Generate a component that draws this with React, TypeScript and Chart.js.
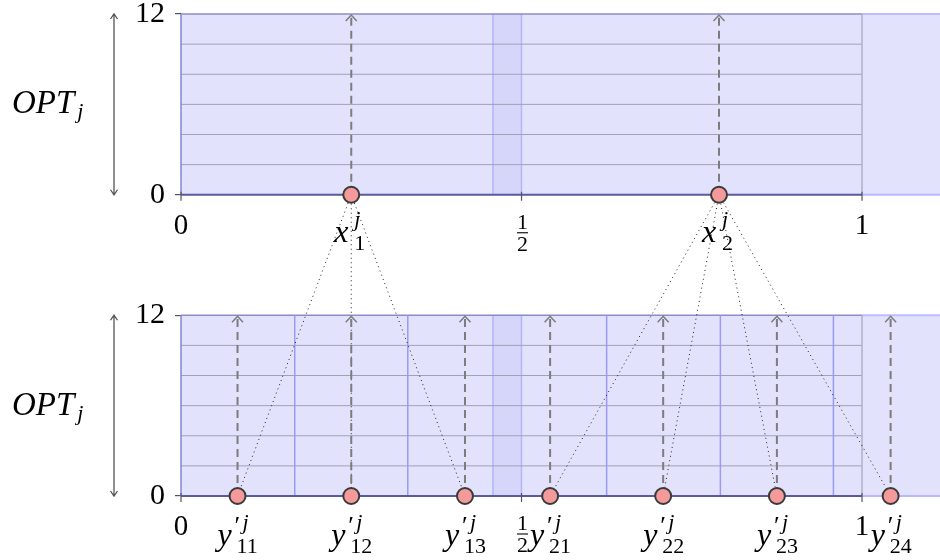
import React, { useEffect, useRef } from "react";
import { Chart, registerables } from "chart.js";

Chart.register(...registerables);

// ---- data ----
const X_MAX = 1.1145;
const Y_MIN = -20;
const Y_MAX = 12;
const PANEL_BASES = [0, -20]; // top panel, bottom panel (value offsets on shared y scale)
const PANEL_HEIGHT = 12;
const GRID_VALUES = [2, 4, 6, 8, 10];
const Y_TICK_VALUES = [0, 12];
const Y_TICK_LABELS = ["0", "12"];
const X_TICK_VALUES = [0, 0.5, 1];
const X_TICK_LABELS = ["0", "1/2", "1"];
const BAND = [0.458, 0.5];
const TOP_POINTS = [0.25, 0.79];
const TOP_LABELS = ["1", "2"];
const BOTTOM_POINTS = [0.083, 0.25, 0.417, 0.542, 0.708, 0.875, 1.042];
const BOTTOM_LABELS = ["11", "12", "13", "21", "22", "23", "24"];
const BOTTOM_PARENTS = [0, 0, 0, 1, 1, 1, 1];
const BOTTOM_DIVIDERS = [0.167, 0.333, 0.625, 0.792, 0.958];

const FONT = "'Liberation Serif', 'DejaVu Serif', serif";
const LIGHT = "#e2e2fd";

function seg(points: number[][], opts: any, order: number) {
  return {
    type: "line",
    data: points.map(([x, y]) => ({ x, y })),
    pointRadius: 0,
    pointHoverRadius: 0,
    borderWidth: 1,
    fill: false,
    tension: 0,
    clip: false,
    order,
    ...opts,
  };
}

function buildDatasets() {
  const ds: any[] = [];
  PANEL_BASES.forEach((b) => {
    const top = b + PANEL_HEIGHT;
    ds.push(seg([[0, top], [1, top]], { backgroundColor: LIGHT, fill: { value: b }, borderColor: "#8c8cc8", borderWidth: 1.5 }, 30));
    ds.push(seg([[1, top], [X_MAX, top]], { backgroundColor: LIGHT, fill: { value: b }, borderColor: "#bcbcff", borderWidth: 2 }, 30));
    ds.push(seg([[BAND[0], top], [BAND[1], top]], { backgroundColor: "rgba(110,110,235,0.10)", fill: { value: b }, borderColor: "rgba(0,0,0,0)" }, 29));
    BAND.forEach((bx) => ds.push(seg([[bx, b], [bx, top]], { borderColor: "rgba(120,120,255,0.4)", borderWidth: 1.5 }, 28)));
    GRID_VALUES.forEach((g) => ds.push(seg([[0, b + g], [1, b + g]], { borderColor: "#a0a0b6", borderWidth: 1 }, 27)));
    ds.push(seg([[1, b], [1, top]], { borderColor: "#b0b0c8", borderWidth: 1.5 }, 26));
    ds.push(seg([[0, b], [0, top]], { borderColor: "#8484d4", borderWidth: 1.5 }, 25));
    ds.push(seg([[0, b], [1, b]], { borderColor: "#5a5aa0", borderWidth: 2 }, 24));
    ds.push(seg([[1, b], [X_MAX, b]], { borderColor: "#b8b8ff", borderWidth: 2 }, 24));
  });
  const bb = PANEL_BASES[1];
  BOTTOM_DIVIDERS.forEach((d) => ds.push(seg([[d, bb], [d, bb + PANEL_HEIGHT]], { borderColor: "#9a9af6", borderWidth: 1.5 }, 26)));
  // dotted connections
  BOTTOM_POINTS.forEach((x, i) =>
    ds.push(seg([[TOP_POINTS[BOTTOM_PARENTS[i]], PANEL_BASES[0]], [x, bb]], { borderColor: "#222", borderWidth: 1, borderDash: [1, 3.5] }, 10))
  );
  // dashed arrows
  TOP_POINTS.forEach((x) => ds.push(seg([[x, PANEL_BASES[0]], [x, PANEL_BASES[0] + PANEL_HEIGHT]], { borderColor: "#7c7c7c", borderWidth: 2, borderDash: [8, 5] }, 9)));
  BOTTOM_POINTS.forEach((x) => ds.push(seg([[x, bb], [x, bb + PANEL_HEIGHT]], { borderColor: "#7c7c7c", borderWidth: 2, borderDash: [8, 5] }, 9)));
  // points
  ds.push({
    type: "line",
    showLine: false,
    data: [...TOP_POINTS.map((x) => ({ x, y: PANEL_BASES[0] })), ...BOTTOM_POINTS.map((x) => ({ x, y: bb }))],
    pointRadius: 8,
    pointHoverRadius: 8,
    pointBackgroundColor: "#f49a9a",
    pointBorderColor: "#3a3a3a",
    pointBorderWidth: 2,
    clip: false,
    order: 1,
  });
  return ds;
}

function txt(ctx: CanvasRenderingContext2D, s: string, x: number, y: number, size: number, italic: boolean, align: CanvasTextAlign = "left") {
  ctx.font = `${italic ? "italic " : ""}${size}px ${FONT}`;
  ctx.textAlign = align;
  ctx.textBaseline = "alphabetic";
  ctx.fillText(s, x, y);
}

const overlayPlugin = {
  id: "overlay",
  afterDraw(chart: any) {
    const ctx: CanvasRenderingContext2D = chart.ctx;
    const xs = chart.scales.x;
    const ys = chart.scales.y;
    ctx.save();
    ctx.setLineDash([]);
    // arrowheads
    ctx.strokeStyle = "#7c7c7c";
    ctx.lineWidth = 1.5;
    const heads: number[][] = [
      ...TOP_POINTS.map((x) => [x, PANEL_BASES[0]]),
      ...BOTTOM_POINTS.map((x) => [x, PANEL_BASES[1]]),
    ];
    heads.forEach(([x, b]) => {
      const px = xs.getPixelForValue(x);
      const py = ys.getPixelForValue(b + PANEL_HEIGHT);
      ctx.beginPath();
      ctx.moveTo(px - 5.5, py + 7);
      ctx.lineTo(px, py + 1);
      ctx.lineTo(px + 5.5, py + 7);
      ctx.stroke();
    });

    ctx.fillStyle = "#000";
    PANEL_BASES.forEach((b, pi) => {
      const py0 = ys.getPixelForValue(b);
      const pyT = ys.getPixelForValue(b + PANEL_HEIGHT);
      // x ticks
      ctx.strokeStyle = "#555";
      ctx.lineWidth = 1.2;
      X_TICK_VALUES.forEach((v, i) => {
        const px = xs.getPixelForValue(v);
        ctx.beginPath();
        ctx.moveTo(px, py0 - 3);
        ctx.lineTo(px, py0 + 6);
        ctx.stroke();
        const lab = X_TICK_LABELS[i];
        if (lab.includes("/")) {
          const [n, d] = lab.split("/");
          txt(ctx, n, px + 1, py0 + 34, 22, false, "center");
          ctx.strokeStyle = "#000";
          ctx.lineWidth = 1.1;
          ctx.beginPath();
          ctx.moveTo(px - 4.5, py0 + 38);
          ctx.lineTo(px + 6.5, py0 + 38);
          ctx.stroke();
          txt(ctx, d, px + 1, py0 + 56, 22, false, "center");
          ctx.strokeStyle = "#555";
          ctx.lineWidth = 1.2;
        } else {
          txt(ctx, lab, px, py0 + 39, 29, false, "center");
        }
      });
      // OPT_j label + double arrow
      const cy = (py0 + pyT) / 2;
      ctx.font = `italic 33px ${FONT}`;
      txt(ctx, "OPT", 12, cy + 9, 33, true);
      const w = ctx.measureText("OPT").width;
      txt(ctx, "j", 12 + w + 3, cy + 14, 22, true);
      ctx.strokeStyle = "#555";
      ctx.lineWidth = 1.3;
      const ax = 114;
      ctx.beginPath();
      ctx.moveTo(ax, pyT);
      ctx.lineTo(ax, py0);
      ctx.moveTo(ax - 3.5, pyT + 5);
      ctx.lineTo(ax, pyT);
      ctx.lineTo(ax + 3.5, pyT + 5);
      ctx.moveTo(ax - 3.5, py0 - 5);
      ctx.lineTo(ax, py0);
      ctx.lineTo(ax + 3.5, py0 - 5);
      ctx.stroke();
      // point labels
      if (pi === 0) {
        TOP_POINTS.forEach((x, i) => {
          const px = xs.getPixelForValue(x);
          txt(ctx, "x", px - 17, py0 + 47, 32, true);
          txt(ctx, "j", px + 3, py0 + 31, 22, true);
          txt(ctx, TOP_LABELS[i], px + 3, py0 + 55, 22, false);
        });
      } else {
        BOTTOM_POINTS.forEach((x, i) => {
          const px = xs.getPixelForValue(x);
          txt(ctx, "y", px - 20, py0 + 49, 32, true);
          txt(ctx, "\u2032", px - 3, py0 + 38, 26, false);
          txt(ctx, "j", px + 5, py0 + 33, 22, true);
          txt(ctx, BOTTOM_LABELS[i], px - 1, py0 + 57, 22, false);
        });
      }
    });
    ctx.restore();
  },
};

export default function App() {
  const ref = useRef<HTMLCanvasElement>(null);
  useEffect(() => {
    const canvas = ref.current!;
    const chart = new Chart(canvas, {
      type: "line",
      data: { datasets: buildDatasets() },
      options: {
        animation: false,
        responsive: false,
        events: [],
        layout: { autoPadding: false, padding: { left: 0, right: 0, top: 14, bottom: 64 } },
        plugins: { legend: { display: false }, tooltip: { enabled: false } },
        scales: {
          x: { type: "linear", min: 0, max: X_MAX, display: false },
          y: {
            type: "linear",
            min: Y_MIN,
            max: Y_MAX,
            position: "left",
            border: { display: false },
            grid: { drawOnChartArea: false, drawTicks: true, tickLength: 6, color: "#555", lineWidth: 1.2 },
            ticks: {
              autoSkip: false,
              padding: 10,
              color: "#000",
              font: { family: FONT, size: 30 },
              callback: (v: any) => {
                for (const b of PANEL_BASES) {
                  const idx = Y_TICK_VALUES.indexOf(Number(v) - b);
                  if (idx >= 0) return Y_TICK_LABELS[idx];
                }
                return "";
              },
            },
            afterBuildTicks: (s: any) => {
              s.ticks = PANEL_BASES.flatMap((b) => Y_TICK_VALUES.map((v) => ({ value: b + v })));
            },
            afterFit: (s: any) => {
              s.width = 181;
              s.paddingTop = 0;
              s.paddingBottom = 0;
            },
          },
        },
      } as any,
      plugins: [overlayPlugin],
    } as any);
    return () => chart.destroy();
  }, []);
  return (
    <div style={{ position: "absolute", left: 0, top: 0, width: 940, height: 560 }}>
      <canvas ref={ref} width={940} height={560} style={{ display: "block", width: 940, height: 560 }} />
    </div>
  );
}
